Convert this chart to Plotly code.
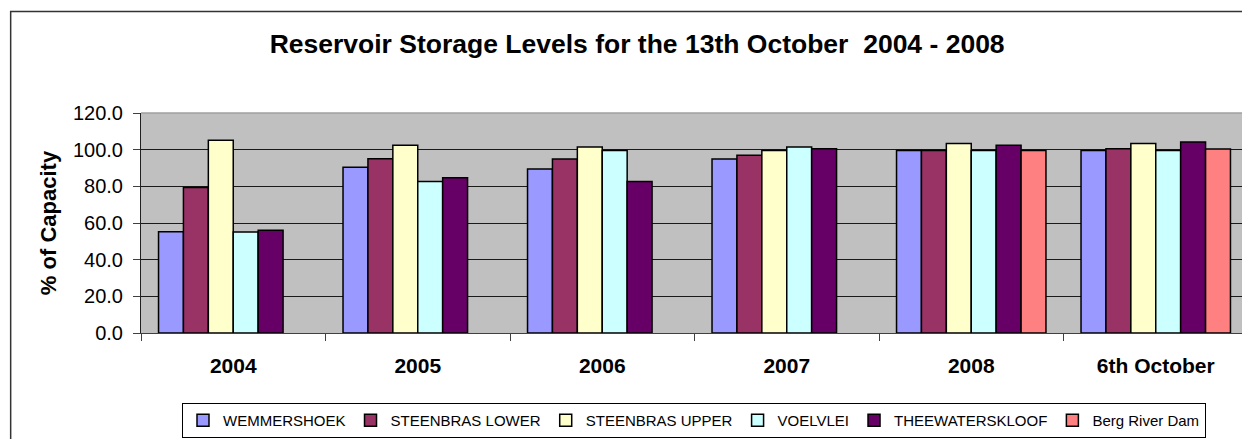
import plotly.graph_objects as go

categories = ["2004", "2005", "2006", "2007", "2008", "6th October"]
series_names = ["WEMMERSHOEK", "STEENBRAS LOWER", "STEENBRAS UPPER", "VOELVLEI",
                "THEEWATERSKLOOF", "Berg River Dam"]
wemmershoek = [55.2, 90.4, 89.5, 94.9, 99.6, 99.6]
steenbras_lower = [79.3, 95.1, 94.9, 96.9, 99.6, 100.5]
steenbras_upper = [105.1, 102.4, 101.5, 99.6, 103.3, 103.3]
voelvlei = [55.1, 82.7, 99.6, 101.5, 99.6, 99.6]
theewaterskloof = [56.1, 84.7, 82.7, 100.5, 102.4, 104.2]
berg_river_dam = [None, None, None, None, 99.6, 100.4]
colors = ["#9999FF", "#993366", "#FFFFCC", "#CCFFFF", "#660066", "#FF8080"]

series = [wemmershoek, steenbras_lower, steenbras_upper, voelvlei, theewaterskloof, berg_river_dam]

fig = go.Figure()
for name, vals, col in zip(series_names, series, colors):
    fig.add_trace(go.Bar(
        x=categories, y=vals, name=name,
        marker=dict(color=col, line=dict(color="#000000", width=1.5)),
    ))

# page has an 8px body margin; figure is sized so the page is 1250x439
OFF = 8
W, H = 1250 - OFF, 439 - OFF
L = 141 - OFF
T = 113.3 - OFF
R = W - (1247.7 - OFF)
B = H - (333.3 - OFF)
pw, ph = W - L - R, H - T - B

def px_x(p):  # page pixel -> paper x
    return (p - OFF - L) / pw

def px_y(p):  # page pixel -> paper y
    return (H - B - (p - OFF)) / ph

FONT = "Liberation Sans, Arial, sans-serif"

fig.update_layout(
    width=W, height=H,
    margin=dict(l=L, r=R, t=T, b=B, autoexpand=False),
    paper_bgcolor="#FFFFFF",
    plot_bgcolor="#C0C0C0",
    barmode="group",
    bargap=0.19,
    bargroupgap=0,
    font=dict(family=FONT, color="#000000"),
    title=dict(
        text="<b>Reservoir Storage Levels for the 13th October  2004 - 2008</b>",
        font=dict(size=26.5, color="#000000"),
        xref="paper", x=px_x(637), xanchor="center",
        yref="container", y=1 - (44 - OFF) / H, yanchor="middle",
    ),
    showlegend=True,
    legend=dict(
        orientation="h",
        xref="container", yref="container",
        xanchor="center", x=(694 - OFF) / W,
        yanchor="top", y=1 - (403 - OFF) / H,
        font=dict(size=15, color="#000000"),
        bordercolor="#000000", borderwidth=1,
        bgcolor="#FFFFFF",
        itemwidth=30,
        traceorder="normal",
    ),
    xaxis=dict(
        type="category",
        automargin=False,
        showgrid=False,
        showline=True, linecolor="#404040", linewidth=1,
        ticks="outside", ticklen=7, tickcolor="#404040",
        tickson="boundaries",
        tickfont=dict(size=21, color="#000000", family=FONT),
        ticklabelstandoff=14,
        tickprefix="<b>", ticksuffix="</b>",
    ),
    yaxis=dict(
        range=[0, 120], dtick=20, tickformat=".1f",
        automargin=False,
        showgrid=True, gridcolor="#1a1a1a", gridwidth=1,
        showline=True, linecolor="#202020", linewidth=1,
        ticks="outside", ticklen=7, tickcolor="#404040",
        tickfont=dict(size=20, color="#000000"),
        ticklabelstandoff=6,
        zeroline=False,
        title=dict(text="<b>% of Capacity</b>", font=dict(size=22, color="#000000"), standoff=10),
    ),
    shapes=[
        dict(type="rect", xref="paper", yref="paper",
             x0=px_x(10.7), x1=px_x(1262), y0=px_y(460), y1=px_y(11.7),
             line=dict(color="#333333", width=1.5), fillcolor="rgba(0,0,0,0)", layer="above"),
        dict(type="line", xref="paper", yref="paper", x0=0, x1=1, y0=1, y1=1,
             line=dict(color="#A0A0A0", width=1.5), layer="above"),
        dict(type="line", xref="paper", yref="paper", x0=1, x1=1, y0=0, y1=1,
             line=dict(color="#A0A0A0", width=1.5), layer="above"),
    ],
)

fig.write_html("out.html")
